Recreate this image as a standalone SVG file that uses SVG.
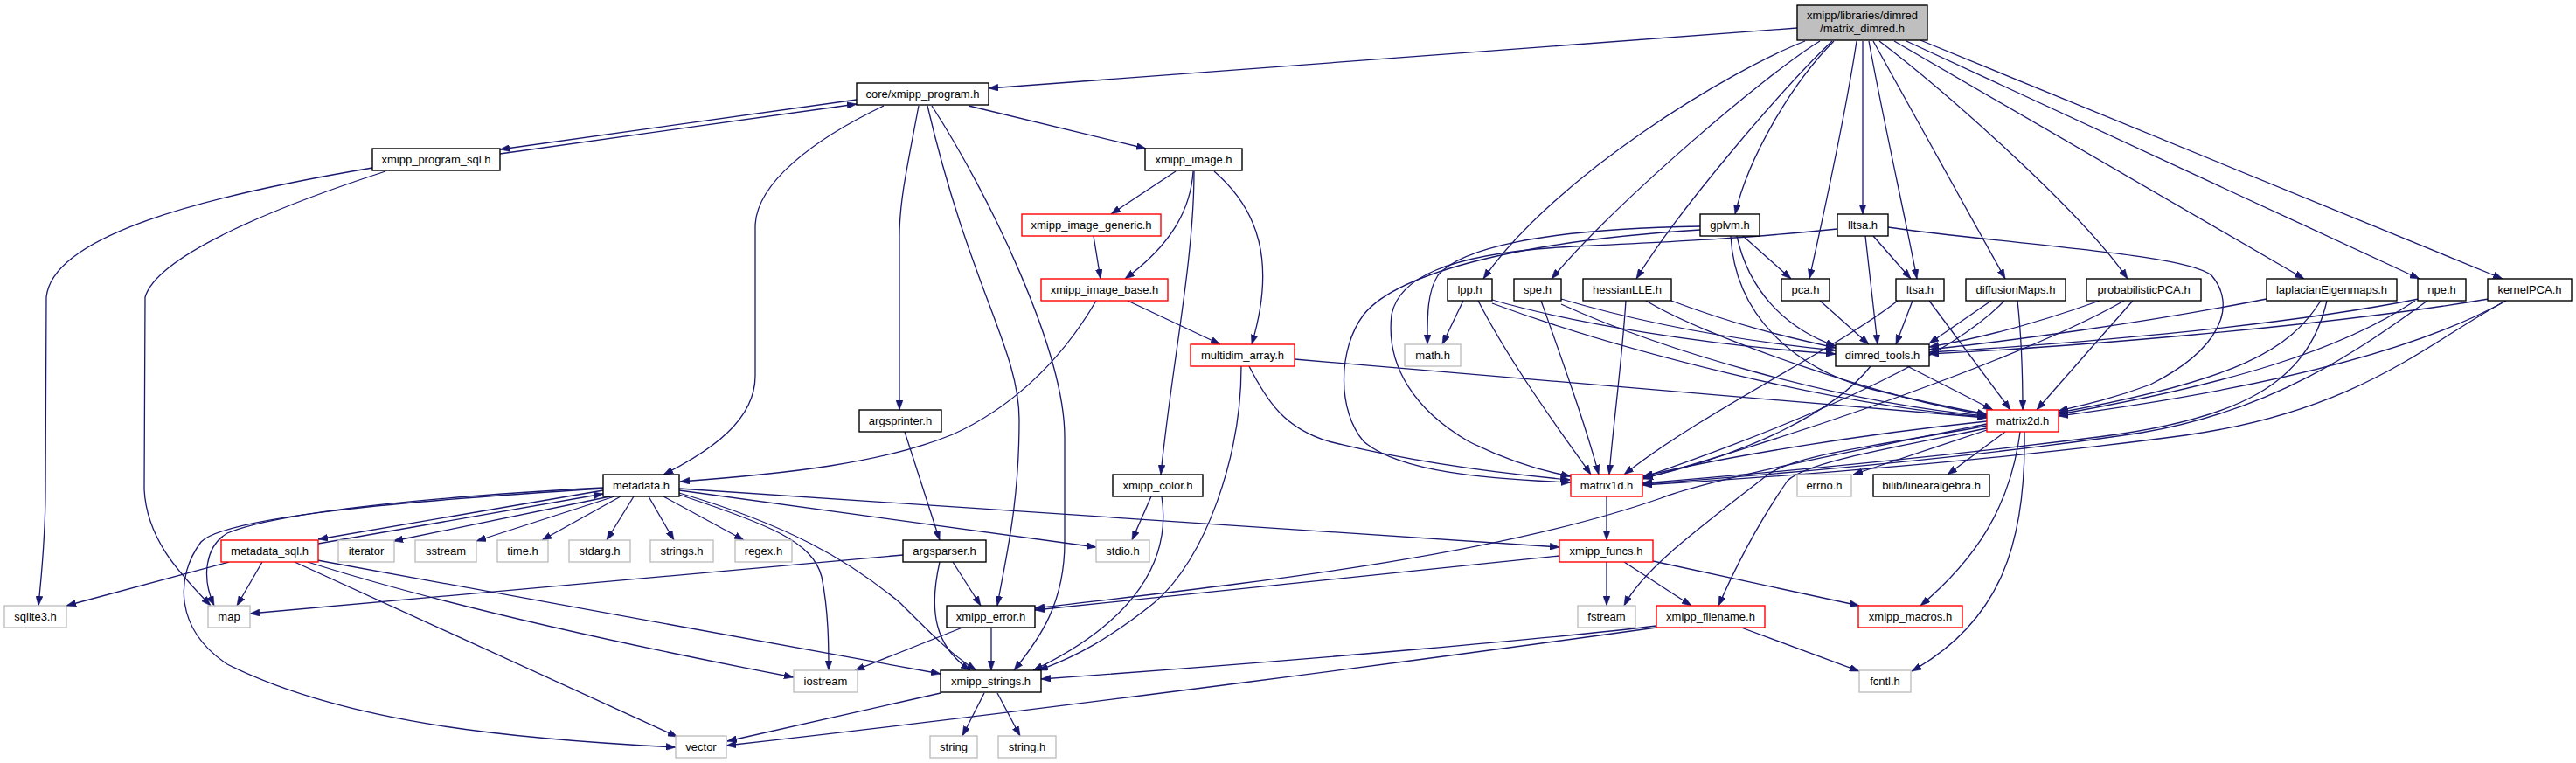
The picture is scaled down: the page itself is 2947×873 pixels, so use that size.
<svg xmlns="http://www.w3.org/2000/svg" width="2947" height="873" viewBox="0 0 2947 873">
<style>
rect{fill:#ffffff;stroke:#000000;stroke-width:1.4}
.r rect{stroke:#ff0000}
.g rect{stroke:#bfbfbf}
.top rect{fill:#bfbfbf}
text{font-family:"Liberation Sans",Arial,Helvetica,sans-serif;font-size:13px;fill:#000000;text-anchor:middle}
#edges path{fill:none;stroke:#191970;stroke-width:1.3;marker-end:url(#ah)}
</style>
<defs>
<marker id="ah" markerUnits="userSpaceOnUse" markerWidth="11" markerHeight="8" viewBox="0 0 11 8" refX="11" refY="4" orient="auto">
<path d="M0,0 L11,4 L0,8 z" fill="#191970" stroke="#191970" stroke-width="0.5"/>
</marker>
</defs>
<rect x="0" y="0" width="2947" height="873" style="fill:#ffffff;stroke:none"/>
<g id="edges">
<path d="M2056,32 L1131,101"/>
<path d="M2065,47 C1980,80 1780,200 1697,319"/>
<path d="M2082,47 C2020,85 1850,230 1775,319"/>
<path d="M2096,47 C2040,100 1920,240 1872,319"/>
<path d="M2098,47 C2050,95 2000,180 1985,245"/>
<path d="M2124,47 C2110,140 2085,250 2070,319"/>
<path d="M2131,47 L2131,245"/>
<path d="M2138,47 C2155,140 2180,250 2193,319"/>
<path d="M2143,47 L2294,319"/>
<path d="M2150,47 C2220,100 2380,240 2434,319"/>
<path d="M2167,47 L2636,319"/>
<path d="M2181,47 L2768,319"/>
<path d="M2197,46 L2863,319"/>
<path d="M980,114 L572,171"/>
<path d="M572,176 L980,119"/>
<path d="M1108,121 L1311,170"/>
<path d="M1011,121 C930,160 864,210 864,260 L864,430 C864,480 815,515 759,543"/>
<path d="M1051,121 C1038,190 1029,230 1029,270 L1029,469"/>
<path d="M1061,121 C1110,330 1166,400 1166,480 C1166,580 1150,640 1141,693"/>
<path d="M1066,121 C1130,220 1218,400 1218,500 L1218,620 C1218,690 1190,730 1160,767"/>
<path d="M426,192 C230,225 60,270 53,340 L52,560 C52,620 47,660 44,693"/>
<path d="M441,196 C330,232 180,290 166,340 L165,560 C168,620 210,660 241,693"/>
<path d="M1345,196 L1271,245"/>
<path d="M1365,196 C1362,240 1340,280 1287,319"/>
<path d="M1366,196 C1366,300 1340,420 1328,543"/>
<path d="M1389,196 C1440,240 1460,300 1432,394"/>
<path d="M1251,270 L1259,319"/>
<path d="M1290,344 L1396,394"/>
<path d="M1254,344 C1210,420 1150,470 1090,497 C1010,530 900,542 778,551"/>
<path d="M1429,419 C1450,460 1470,490 1520,505 C1620,530 1720,542 1796,549"/>
<path d="M1481,411 L2273,478"/>
<path d="M1420,419 C1420,520 1380,640 1320,690 C1270,730 1230,752 1188,767"/>
<path d="M1317,568 L1295,618"/>
<path d="M1329,568 C1340,640 1300,710 1182,767"/>
<path d="M1035,494 L1075,618"/>
<path d="M1033,635 L286,702"/>
<path d="M1090,643 L1122,693"/>
<path d="M1075,643 C1062,700 1070,740 1110,767"/>
<path d="M690,561 L364,617"/>
<path d="M364,622 L690,565"/>
<path d="M698,568 L450,619"/>
<path d="M703,568 L545,619"/>
<path d="M710,568 L620,618"/>
<path d="M725,568 L694,618"/>
<path d="M742,568 L771,618"/>
<path d="M759,568 L851,618"/>
<path d="M777,561 L1254,626"/>
<path d="M777,559 L1784,626"/>
<path d="M777,566 C880,600 930,620 940,660 C948,700 948,740 948,767"/>
<path d="M777,564 C900,600 970,640 1030,690 C1070,730 1090,750 1117,767"/>
<path d="M690,558 C500,568 320,585 260,610 C235,625 230,660 245,693"/>
<path d="M690,559 C480,572 260,590 230,620 C200,660 200,720 260,760 C400,830 600,846 773,855"/>
<path d="M262,643 L76,693"/>
<path d="M300,643 L271,693"/>
<path d="M363,641 L1076,771"/>
<path d="M352,643 C500,690 700,735 908,775"/>
<path d="M337,643 L775,843"/>
<path d="M1101,718 L978,767"/>
<path d="M1134,718 L1134,767"/>
<path d="M1076,793 L832,848"/>
<path d="M1126,793 L1101,842"/>
<path d="M1141,793 L1167,842"/>
<path d="M1895,716 C1800,728 1500,755 1191,777"/>
<path d="M1895,718 C1700,745 1200,812 831,853"/>
<path d="M1992,718 L2127,768"/>
<path d="M1838,643 L1838,693"/>
<path d="M1858,643 L1935,693"/>
<path d="M1891,642 L2127,693"/>
<path d="M1784,636 L1184,698"/>
<path d="M1838,568 L1838,618"/>
<path d="M2273,482 C2100,500 1950,528 1880,545"/>
<path d="M2273,492 L2120,543"/>
<path d="M2294,494 L2228,543"/>
<path d="M2311,494 C2300,580 2260,640 2197,693"/>
<path d="M2316,494 C2318,620 2290,710 2187,768"/>
<path d="M2273,487 C2150,510 2050,520 2020,545 C1950,600 1880,650 1858,693"/>
<path d="M2273,490 C2150,515 2065,530 2045,550 C2010,600 1985,650 1966,693"/>
<path d="M2273,485 C2100,520 1950,550 1900,570 C1700,640 1400,670 1184,696"/>
<path d="M2140,419 C2100,470 2000,520 1880,547"/>
<path d="M2182,419 L2280,469"/>
<path d="M1994,270 L2049,319"/>
<path d="M1987,270 C2000,330 2040,375 2100,396"/>
<path d="M1980,270 C1985,360 2050,420 2140,445 C2200,460 2240,468 2273,474"/>
<path d="M1945,259 C1760,262 1670,285 1645,315 C1632,335 1633,365 1633,394"/>
<path d="M1945,263 C1750,275 1600,310 1560,360 C1530,400 1530,470 1560,505 C1600,540 1700,548 1797,552"/>
<path d="M2143,270 L2186,319"/>
<path d="M2134,270 L2148,394"/>
<path d="M2160,260 C2300,280 2500,290 2530,315 C2560,350 2540,400 2460,440 C2420,455 2390,462 2355,470"/>
<path d="M2102,262 C2000,272 1950,275 1800,282 C1650,290 1600,320 1592,360 C1585,420 1620,470 1680,505 C1730,530 1770,540 1797,545"/>
<path d="M1674,344 L1650,394"/>
<path d="M1691,344 C1730,420 1790,500 1820,543"/>
<path d="M1707,343 C1800,370 1950,395 2100,405"/>
<path d="M1707,347 C1850,400 2100,465 2273,477"/>
<path d="M1763,344 C1790,420 1815,490 1829,543"/>
<path d="M1786,342 C1880,370 1990,390 2100,401"/>
<path d="M1786,348 C1900,400 2100,460 2273,476"/>
<path d="M1860,344 C1855,420 1845,490 1841,543"/>
<path d="M1912,344 C1980,370 2040,385 2100,398"/>
<path d="M1883,344 C1950,385 2150,455 2273,475"/>
<path d="M2082,344 L2138,394"/>
<path d="M2171,344 C2100,400 1950,470 1858,543"/>
<path d="M2188,344 L2169,394"/>
<path d="M2207,344 L2300,469"/>
<path d="M2278,344 L2207,393"/>
<path d="M2308,344 C2312,380 2314,420 2314,469"/>
<path d="M2293,344 C2240,400 2100,470 1880,546"/>
<path d="M2402,344 C2330,370 2260,388 2207,397"/>
<path d="M2440,344 L2330,469"/>
<path d="M2430,344 C2350,390 2150,470 1880,548"/>
<path d="M2593,342 C2450,370 2300,390 2207,400"/>
<path d="M2655,344 C2620,400 2560,435 2355,472"/>
<path d="M2662,344 C2640,440 2560,480 2400,500 C2200,525 2000,543 1879,553"/>
<path d="M2767,342 C2600,375 2350,395 2207,403"/>
<path d="M2763,344 C2680,400 2550,440 2355,474"/>
<path d="M2777,344 C2700,400 2600,470 2450,495 C2250,525 2000,545 1879,554"/>
<path d="M2847,342 C2650,375 2350,398 2207,405"/>
<path d="M2867,344 C2750,410 2550,450 2355,476"/>
<path d="M2867,344 C2780,390 2700,470 2500,498 C2300,525 2050,545 1879,555"/>
</g>
<g id="n0" class="top"><rect x="2056" y="6" width="149" height="40"/><text x="2130.5" y="21.5">xmipp/libraries/dimred</text><text x="2130.5" y="36.5">/matrix_dimred.h</text></g>
<g id="n1"><rect x="980" y="95" width="151" height="25"/><text x="1055.5" y="112">core/xmipp_program.h</text></g>
<g id="n2"><rect x="426" y="170" width="146" height="25"/><text x="499" y="187">xmipp_program_sql.h</text></g>
<g id="n3"><rect x="1310" y="170" width="111" height="25"/><text x="1365.5" y="187">xmipp_image.h</text></g>
<g id="n4" class="r"><rect x="1169" y="245" width="159" height="25"/><text x="1248.5" y="262">xmipp_image_generic.h</text></g>
<g id="n5" class="r"><rect x="1191" y="319" width="145" height="25"/><text x="1263.5" y="336">xmipp_image_base.h</text></g>
<g id="n6" class="r"><rect x="1362" y="394" width="119" height="25"/><text x="1421.5" y="411">multidim_array.h</text></g>
<g id="n7"><rect x="1945" y="245" width="68" height="25"/><text x="1979" y="262">gplvm.h</text></g>
<g id="n8"><rect x="2102" y="245" width="58" height="25"/><text x="2131" y="262">lltsa.h</text></g>
<g id="n9"><rect x="1656" y="319" width="51" height="25"/><text x="1681.5" y="336">lpp.h</text></g>
<g id="n10"><rect x="1732" y="319" width="54" height="25"/><text x="1759" y="336">spe.h</text></g>
<g id="n11"><rect x="1811" y="319" width="101" height="25"/><text x="1861.5" y="336">hessianLLE.h</text></g>
<g id="n12"><rect x="2038" y="319" width="55" height="25"/><text x="2065.5" y="336">pca.h</text></g>
<g id="n13"><rect x="2169" y="319" width="55" height="25"/><text x="2196.5" y="336">ltsa.h</text></g>
<g id="n14"><rect x="2249" y="319" width="114" height="25"/><text x="2306" y="336">diffusionMaps.h</text></g>
<g id="n15"><rect x="2387" y="319" width="131" height="25"/><text x="2452.5" y="336">probabilisticPCA.h</text></g>
<g id="n16"><rect x="2593" y="319" width="149" height="25"/><text x="2667.5" y="336">laplacianEigenmaps.h</text></g>
<g id="n17"><rect x="2766" y="319" width="55" height="25"/><text x="2793.5" y="336">npe.h</text></g>
<g id="n18"><rect x="2846" y="319" width="96" height="25"/><text x="2894" y="336">kernelPCA.h</text></g>
<g id="n19" class="g"><rect x="1607" y="394" width="64" height="25"/><text x="1639" y="411">math.h</text></g>
<g id="n20"><rect x="2100" y="394" width="107" height="25"/><text x="2153.5" y="411">dimred_tools.h</text></g>
<g id="n21"><rect x="983" y="469" width="94" height="25"/><text x="1030" y="486">argsprinter.h</text></g>
<g id="n22" class="r"><rect x="2273" y="469" width="82" height="25"/><text x="2314" y="486">matrix2d.h</text></g>
<g id="n23"><rect x="690" y="543" width="87" height="25"/><text x="733.5" y="560">metadata.h</text></g>
<g id="n24"><rect x="1273" y="543" width="103" height="25"/><text x="1324.5" y="560">xmipp_color.h</text></g>
<g id="n25" class="r"><rect x="1797" y="543" width="82" height="25"/><text x="1838" y="560">matrix1d.h</text></g>
<g id="n26" class="g"><rect x="2056" y="543" width="62" height="25"/><text x="2087" y="560">errno.h</text></g>
<g id="n27"><rect x="2143" y="543" width="133" height="25"/><text x="2209.5" y="560">bilib/linearalgebra.h</text></g>
<g id="n28" class="r"><rect x="253" y="618" width="111" height="25"/><text x="308.5" y="635">metadata_sql.h</text></g>
<g id="n29" class="g"><rect x="387" y="618" width="64" height="25"/><text x="419" y="635">iterator</text></g>
<g id="n30" class="g"><rect x="475" y="618" width="70" height="25"/><text x="510" y="635">sstream</text></g>
<g id="n31" class="g"><rect x="569" y="618" width="58" height="25"/><text x="598" y="635">time.h</text></g>
<g id="n32" class="g"><rect x="651" y="618" width="70" height="25"/><text x="686" y="635">stdarg.h</text></g>
<g id="n33" class="g"><rect x="744" y="618" width="72" height="25"/><text x="780" y="635">strings.h</text></g>
<g id="n34" class="g"><rect x="841" y="618" width="65" height="25"/><text x="873.5" y="635">regex.h</text></g>
<g id="n35"><rect x="1033" y="618" width="95" height="25"/><text x="1080.5" y="635">argsparser.h</text></g>
<g id="n36" class="g"><rect x="1254" y="618" width="61" height="25"/><text x="1284.5" y="635">stdio.h</text></g>
<g id="n37" class="r"><rect x="1784" y="618" width="107" height="25"/><text x="1837.5" y="635">xmipp_funcs.h</text></g>
<g id="n38" class="g"><rect x="5" y="693" width="71" height="25"/><text x="40.5" y="710">sqlite3.h</text></g>
<g id="n39" class="g"><rect x="238" y="693" width="48" height="25"/><text x="262" y="710">map</text></g>
<g id="n40"><rect x="1083" y="693" width="101" height="25"/><text x="1133.5" y="710">xmipp_error.h</text></g>
<g id="n41" class="g"><rect x="1805" y="693" width="66" height="25"/><text x="1838" y="710">fstream</text></g>
<g id="n42" class="r"><rect x="1895" y="693" width="124" height="25"/><text x="1957" y="710">xmipp_filename.h</text></g>
<g id="n43" class="r"><rect x="2126" y="693" width="119" height="25"/><text x="2185.5" y="710">xmipp_macros.h</text></g>
<g id="n44" class="g"><rect x="908" y="767" width="73" height="25"/><text x="944.5" y="784">iostream</text></g>
<g id="n45"><rect x="1076" y="767" width="115" height="25"/><text x="1133.5" y="784">xmipp_strings.h</text></g>
<g id="n46" class="g"><rect x="2127" y="767" width="59" height="25"/><text x="2156.5" y="784">fcntl.h</text></g>
<g id="n47" class="g"><rect x="773" y="842" width="58" height="25"/><text x="802" y="859">vector</text></g>
<g id="n48" class="g"><rect x="1064" y="842" width="54" height="25"/><text x="1091" y="859">string</text></g>
<g id="n49" class="g"><rect x="1142" y="842" width="66" height="25"/><text x="1175" y="859">string.h</text></g>
</svg>
